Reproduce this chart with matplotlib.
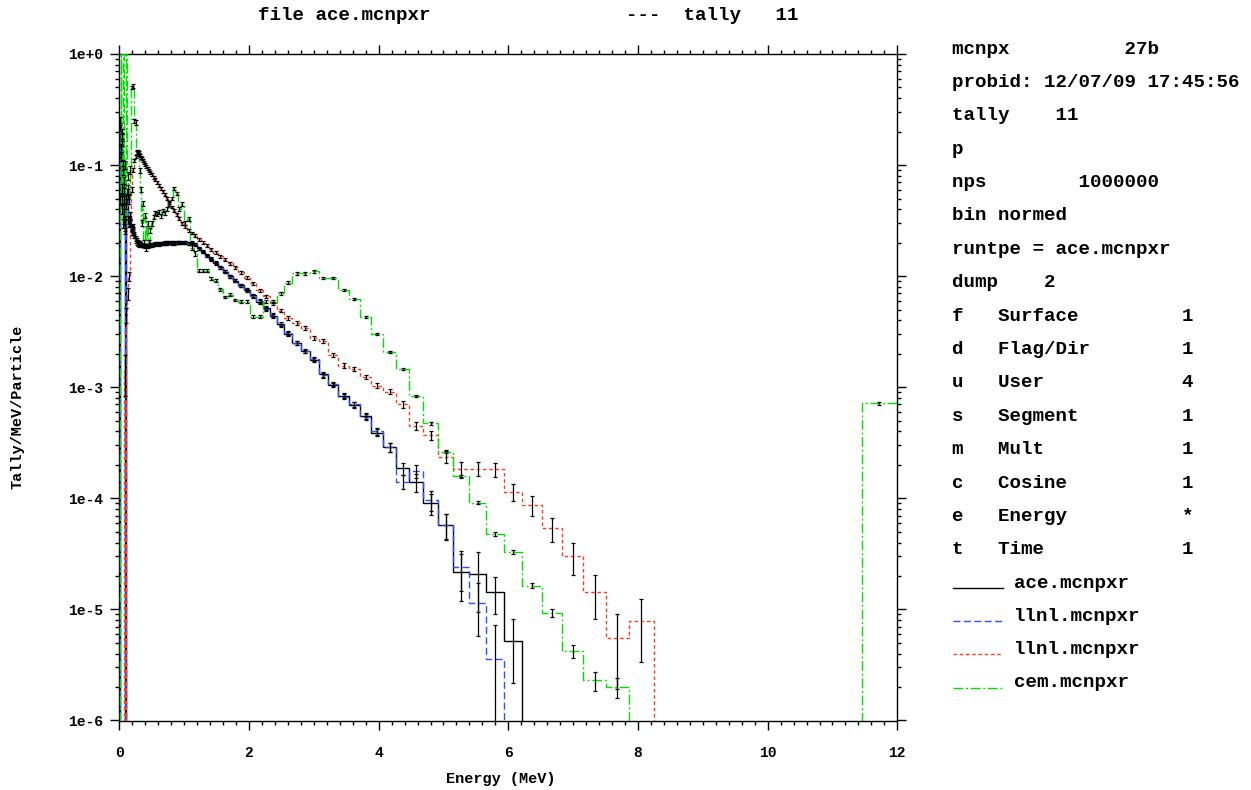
import numpy as np
import matplotlib
matplotlib.use("Agg")
import matplotlib.pyplot as plt
from matplotlib.lines import Line2D
from matplotlib.ticker import MultipleLocator, LogLocator, FuncFormatter, NullFormatter

plt.rcParams['font.family'] = ['Liberation Mono', 'DejaVu Sans Mono']
plt.rcParams['font.weight'] = 'bold'

# energy bin edges (MeV): coarse below 0.294, tally bins above
edges_low = [0.0, 0.01, 0.02, 0.03, 0.04, 0.05, 0.06, 0.07, 0.08, 0.09,
             0.10, 0.12, 0.14, 0.16, 0.18, 0.20, 0.22, 0.24, 0.26, 0.28]
edges_main = [0.294, 0.308, 0.323, 0.338, 0.354, 0.371, 0.389, 0.408, 0.428, 0.448,
              0.470, 0.492, 0.516, 0.541, 0.567, 0.594, 0.623, 0.653, 0.684, 0.717,
              0.751, 0.788, 0.825, 0.865, 0.907, 0.950, 0.996, 1.044, 1.094, 1.147,
              1.202, 1.260, 1.320, 1.384, 1.450, 1.520, 1.593, 1.670, 1.750, 1.834,
              1.922, 2.015, 2.112, 2.213, 2.320, 2.431, 2.548, 2.671, 2.799, 2.934,
              3.075, 3.222, 3.377, 3.540, 3.710, 3.888, 4.075, 4.271, 4.476, 4.692,
              4.917, 5.153, 5.401, 5.661, 5.933, 6.218, 6.517, 6.831, 7.159, 7.503,
              7.864, 8.242, 8.638, 9.054, 9.489, 9.945, 10.423, 10.924, 11.449, 12.0]

# tally/MeV/particle per bin (0 = empty bin)
ace_low = [0, 0.25, 0.12, 0.18, 0.06, 0.10, 0.035, 0.07, 0.03, 0,
           0.045, 0.06, 0.03, 0.035, 0.025, 0.028, 0.024, 0.022, 0.021, 0.020]
ace_main = [0.0195, 0.0200, 0.0192, 0.0190, 0.0188, 0.0190, 0.0186, 0.0188, 0.0190, 0.0187,
            0.0192, 0.0190, 0.0195, 0.0193, 0.0196, 0.0194, 0.0198, 0.0196, 0.0200, 0.0198,
            0.0202, 0.0200, 0.0198, 0.0202, 0.0200, 0.0203, 0.0200, 0.0198, 0.0200, 0.0195,
            0.0178, 0.0165, 0.0154, 0.0143, 0.0131, 0.0120, 0.0110, 0.0100, 0.0091, 0.0083,
            0.0075, 0.0067, 0.0059, 0.0052, 0.0044, 0.0037, 0.0030, 0.0025, 0.00213, 0.00176,
            0.00131, 0.00105, 8.4e-4, 6.9e-4, 5.5e-4, 3.9e-4, 2.9e-4, 1.86e-4, 1.39e-4, 9.0e-5,
            5.75e-5, 2.18e-5, 2.10e-5, 1.44e-5, 5.2e-6, 0, 0, 0, 0, 0,
            0, 0, 0, 0, 0, 0, 0, 0, 0]

llnl_low = [0, 0.22, 0.14, 0.16, 0.05, 0.09, 0.04, 0.06, 0.028, 0,
            0.05, 0.055, 0.032, 0.03, 0.027, 0.026, 0.023, 0.021, 0.020, 0.0195]
llnl_main = [0.0190, 0.0197, 0.0195, 0.0188, 0.0191, 0.0187, 0.0189, 0.0190, 0.0186, 0.0191,
             0.0189, 0.0193, 0.0192, 0.0196, 0.0195, 0.0197, 0.0195, 0.0199, 0.0198, 0.0201,
             0.0199, 0.0197, 0.0201, 0.0199, 0.0202, 0.0199, 0.0201, 0.0197, 0.0198, 0.0193,
             0.0176, 0.0167, 0.0152, 0.0141, 0.0133, 0.0119, 0.0111, 0.0099, 0.0092, 0.0082,
             0.0076, 0.0066, 0.0060, 0.0051, 0.0045, 0.0036, 0.0031, 0.0025, 0.00210, 0.00180,
             0.00128, 0.00107, 8.2e-4, 7.0e-4, 5.4e-4, 4.0e-4, 2.9e-4, 1.41e-4, 1.77e-4, 9.7e-5,
             5.75e-5, 2.42e-5, 1.15e-5, 3.6e-6, 0, 0, 0, 0, 0, 0,
             0, 0, 0, 0, 0, 0, 0, 0, 0]

llnl2_low = [0, 0, 0, 0, 0, 0, 0, 0, 0.0014, 0,
             0.0045, 0.007, 0.01, 0.03, 0.06, 0.09, 0.11, 0.12, 0.13, 0.128]
llnl2_main = [0.125, 0.122, 0.118, 0.114, 0.110, 0.106, 0.102, 0.098, 0.094, 0.090,
              0.086, 0.082, 0.078, 0.074, 0.070, 0.066, 0.062, 0.058, 0.054, 0.050,
              0.046, 0.042, 0.039, 0.036, 0.033, 0.030, 0.028, 0.026, 0.0245, 0.0232,
              0.0215, 0.0200, 0.0188, 0.0175, 0.0163, 0.0151, 0.0141, 0.0131, 0.0120, 0.0108,
              0.0097, 0.0086, 0.0075, 0.0066, 0.0057, 0.0049, 0.0042, 0.0038, 0.0034, 0.0028,
              0.0026, 0.00195, 0.00156, 0.00146, 0.00124, 0.00103, 9.1e-4, 7.0e-4, 4.5e-4, 3.7e-4,
              2.37e-4, 1.84e-4, 1.85e-4, 1.82e-4, 1.15e-4, 8.7e-5, 5.37e-5, 3.03e-5, 1.44e-5, 5.5e-6,
              7.9e-6, 0, 0, 0, 0, 0, 0, 0, 0]

cem_low = [0, 0.05, 1.3, 0.04, 0.2, 0.03, 1.2, 0.05, 0.1, 0.03,
           1.1, 0.08, 0.05, 0.09, 0.5, 0.52, 0.25, 0.24, 0.13, 0.13]
cem_main = [0.13, 0.09, 0.06, 0.03, 0.045, 0.02, 0.035, 0.018, 0.03, 0.02,
            0.026, 0.03, 0.034, 0.037, 0.036, 0.038, 0.035, 0.039, 0.037, 0.040,
            0.045, 0.050, 0.062, 0.055, 0.040, 0.045, 0.030, 0.033, 0.018, 0.016,
            0.0112, 0.0112, 0.0112, 0.0095, 0.0091, 0.0076, 0.0065, 0.0068, 0.0061, 0.0059,
            0.0059, 0.0043, 0.0043, 0.0059, 0.0059, 0.0070, 0.0087, 0.0106, 0.0106, 0.0111,
            0.0096, 0.0096, 0.0075, 0.0062, 0.0043, 0.00303, 0.00206, 0.00146, 8.4e-4, 4.73e-4,
            2.62e-4, 1.58e-4, 9.1e-5, 4.74e-5, 3.27e-5, 1.63e-5, 9.3e-6, 4.2e-6, 2.3e-6, 2.0e-6,
            0, 0, 0, 0, 0, 0, 0, 0, 7.2e-4]

# relative errors in percent
ace_err_low = [0, 8, 10, 8, 12, 10, 15, 12, 15, 0, 10, 10, 8, 8, 6, 6, 5, 5, 5, 5]
ace_err_main = [3, 3, 3, 3, 3, 3, 3, 3, 3, 3,
                3, 3, 3, 3, 3, 3, 3, 3, 3, 3,
                3, 3, 3, 3, 3, 3, 3, 3, 3, 3,
                3, 3, 3, 3, 3, 3, 3, 3, 3, 3,
                3, 3, 4, 4, 4, 4, 4, 4, 4, 5,
                5, 5, 5, 6, 6, 7, 9, 12, 18, 22,
                26, 45, 55, 37, 58, 0, 0, 0, 0, 0,
                0, 0, 0, 0, 0, 0, 0, 0, 0]
llnl_err_low = [0, 8, 10, 8, 12, 10, 14, 12, 15, 0, 10, 10, 8, 8, 6, 6, 5, 5, 5, 5]
llnl_err_main = [3, 3, 3, 3, 3, 3, 3, 3, 3, 3,
                 3, 3, 3, 3, 3, 3, 3, 3, 3, 3,
                 3, 3, 3, 3, 3, 3, 3, 3, 3, 3,
                 3, 3, 3, 3, 3, 3, 3, 3, 3, 3,
                 3, 3, 4, 4, 4, 4, 4, 4, 4, 5,
                 5, 5, 5, 6, 6, 7, 9, 14, 13, 20,
                 25, 40, 50, 100, 0, 0, 0, 0, 0, 0,
                 0, 0, 0, 0, 0, 0, 0, 0, 0]
llnl2_err_low = [0, 0, 0, 0, 0, 0, 0, 0, 40, 0, 15, 12, 10, 6, 5, 4, 4, 3, 3, 3]
llnl2_err_main = [3, 3, 3, 3, 3, 3, 3, 3, 3, 3,
                  3, 3, 3, 3, 3, 3, 3, 3, 3, 3,
                  3, 3, 3, 3, 3, 3, 3, 3, 3, 3,
                  3, 3, 3, 3, 3, 3, 3, 3, 3, 3,
                  3, 3, 3, 3, 3, 3, 4, 4, 4, 4,
                  4, 4, 5, 5, 5, 5, 5, 7, 9, 10,
                  12, 15, 15, 15, 17, 20, 24, 32, 43, 65,
                  57, 0, 0, 0, 0, 0, 0, 0, 0]
cem_err_low = [0, 10, 3, 10, 5, 10, 3, 10, 8, 10, 3, 8, 10, 8, 4, 4, 5, 5, 6, 6]
cem_err_main = [4, 5, 5, 6, 5, 6, 5, 6, 5, 6,
                5, 5, 4, 4, 4, 4, 4, 4, 4, 4,
                4, 4, 3, 3, 4, 4, 4, 4, 5, 5,
                3, 3, 3, 3, 3, 3, 3, 3, 3, 3,
                3, 3, 3, 3, 3, 3, 3, 3, 3, 3,
                2, 2, 2, 2, 2, 2, 2, 2, 2, 3,
                3, 3, 3, 4, 4, 5, 9, 13, 20, 20,
                0, 0, 0, 0, 0, 0, 0, 0, 3]

labels = ['ace.mcnpxr', 'llnl.mcnpxr', 'llnl.mcnpxr', 'cem.mcnpxr']
colors = ['black', '#2a52ff', '#ff3a1a', '#00e000']
styles = ['-', (0, (5, 2.5)), (0, (2.5, 2)), (0, (7, 2, 1.4, 2))]

info_lines = ['mcnpx          27b',
              'probid: 12/07/09 17:45:56',
              'tally    11',
              'p',
              'nps        1000000',
              'bin normed',
              'runtpe = ace.mcnpxr',
              'dump    2',
              'f   Surface         1',
              'd   Flag/Dir        1',
              'u   User            4',
              's   Segment         1',
              'm   Mult            1',
              'c   Cosine          1',
              'e   Energy          *',
              't   Time            1']

W, H = 1251, 790


def fx(px):
    return px / W


def fy(py):
    return 1 - py / H


fig = plt.figure(figsize=(W / 100, H / 100), dpi=100)
ax = fig.add_axes([fx(119.3), fy(720.5), (897.3 - 119.3) / W, (720.5 - 54) / H])

edges = np.array(edges_low + edges_main)
mids = 0.5 * (edges[:-1] + edges[1:])
vals = [ace_low + ace_main, llnl_low + llnl_main, llnl2_low + llnl2_main, cem_low + cem_main]
errs = [ace_err_low + ace_err_main, llnl_err_low + llnl_err_main,
        llnl2_err_low + llnl2_err_main, cem_err_low + cem_err_main]

for v, c, ls in zip(vals, colors, styles):
    v = np.array(v, float)
    ax.stairs(np.where(v > 0, v, 1e-9), edges, baseline=None,
              color=c, lw=1.0, linestyle=ls, zorder=3)

# error bars are black for every tally
for v, r in zip(vals, errs):
    v = np.array(v, float)
    r = np.array(r, float)
    m = (v > 0) & (r > 0)
    e = v * r / 100
    lo = np.minimum(e, v * 0.9999)
    ax.errorbar(mids[m], v[m], yerr=[lo[m], e[m]], fmt='none', ecolor='black',
                elinewidth=0.9, capsize=1.6, capthick=0.9, zorder=5)

ax.set_xlim(0, 12)
ax.set_yscale('log')
ax.set_ylim(1e-6, 1)
ax.xaxis.set_major_locator(MultipleLocator(2))
ax.xaxis.set_minor_locator(MultipleLocator(0.2))
ax.yaxis.set_major_locator(LogLocator(base=10, numticks=10))
ax.yaxis.set_minor_locator(LogLocator(base=10, subs=np.arange(2, 10), numticks=20))
ax.yaxis.set_minor_formatter(NullFormatter())
ax.yaxis.set_major_formatter(FuncFormatter(lambda y, p: f"1e{int(round(np.log10(y))):+d}"))
ax.tick_params(which='both', direction='out', top=True, right=True, width=1, labelsize=10.5)
ax.tick_params(which='major', length=6.5)
ax.tick_params(which='minor', length=3.2)
ax.tick_params(axis='x', which='major', pad=12)
ax.tick_params(axis='y', which='major', pad=5)
for s in ax.spines.values():
    s.set_linewidth(1)

fig.text(fx(18), fy(407), 'Tally/MeV/Particle', rotation=90, ha='center', va='center', size=11)
fig.text(fx(501), fy(779), 'Energy (MeV)', ha='center', va='center', size=11)
fig.text(fx(258), fy(15), 'file ace.mcnpxr                 ---  tally   11',
         ha='left', va='center', size=13.8)

for i, line in enumerate(info_lines):
    fig.text(fx(952), fy(49 + 33.4 * i), line, ha='left', va='center', size=13.8)

for i, (lab, c, ls) in enumerate(zip(labels, colors, styles)):
    y = 583 + 33.2 * i
    fig.add_artist(Line2D([fx(953), fx(1003)], [fy(y + 5), fy(y + 5)],
                          transform=fig.transFigure, color=c, lw=1.0, linestyle=ls))
    fig.text(fx(1014), fy(y), lab, ha='left', va='center', size=13.8)

fig.savefig('out.png', dpi=100, facecolor='white')
